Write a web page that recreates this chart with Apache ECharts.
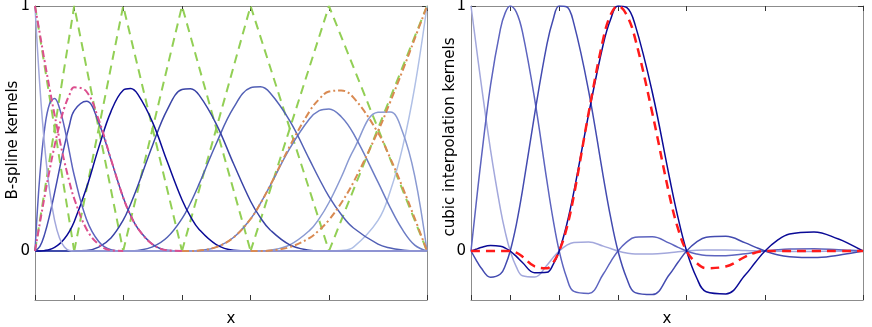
<!DOCTYPE html>
<html>
<head>
<meta charset="utf-8">
<script src="https://cdn.jsdelivr.net/npm/echarts@6/dist/echarts.min.js"></script>
<style>
  html, body { margin: 0; padding: 0; background: #fff; }
  #chart { width: 872px; height: 327px; }
</style>
</head>
<body>
<div id="chart"></div>
<script>
// knot positions, same for both panels (ticks on x)
const knots = [0, 10, 22.5, 37.5, 55, 75, 100];
const yTicks = [0, 1];

// left panel sample positions
const xLeft = [0, 1.25, 2.5, 3.75, 5, 6.25, 7.5, 8.75, 10, 13.125, 16.25, 19.375, 22.5, 24.375, 26.25, 30, 33.75,
    37.5, 39.6875, 41.875, 46.25, 50.625, 55, 57.5, 60, 65, 70, 72.5, 75, 78.125, 81.25, 87.5, 90.625, 93.75, 96.875, 100];

// cubic B-splines (solid blue)
const cubic0 = [1, 0.670, 0.422, 0.244, 0.125, 0.053, 0.016, 0.002, 0, 0, 0, 0, 0, 0, 0, 0, 0,
    0, 0, 0, 0, 0, 0, 0, 0, 0, 0, 0, 0, 0, 0, 0, 0, 0, 0, 0];
const cubic1 = [0, 0.311, 0.505, 0.602, 0.622, 0.583, 0.505, 0.407, 0.309, 0.130, 0.039, 0.005, 0, 0, 0, 0, 0,
    0, 0, 0, 0, 0, 0, 0, 0, 0, 0, 0, 0, 0, 0, 0, 0, 0, 0, 0];
const cubic2 = [0, 0.019, 0.071, 0.147, 0.238, 0.335, 0.429, 0.511, 0.573, 0.611, 0.524, 0.373, 0.218, 0.146, 0.092, 0.027, 0.003,
    0, 0, 0, 0, 0, 0, 0, 0, 0, 0, 0, 0, 0, 0, 0, 0, 0, 0, 0];
const cubic3 = [0, 0, 0.002, 0.006, 0.015, 0.029, 0.050, 0.079, 0.119, 0.257, 0.422, 0.569, 0.656, 0.663, 0.639, 0.525, 0.364,
    0.209, 0.140, 0.088, 0.026, 0.003, 0, 0, 0, 0, 0, 0, 0, 0, 0, 0, 0, 0, 0, 0];
const cubic4 = [0, 0, 0, 0, 0, 0, 0, 0, 0, 0.002, 0.016, 0.053, 0.126, 0.191, 0.267, 0.432, 0.577,
    0.659, 0.662, 0.636, 0.518, 0.357, 0.203, 0.136, 0.086, 0.025, 0.003, 0, 0, 0, 0, 0, 0, 0, 0, 0];
const cubic5 = [0, 0, 0, 0, 0, 0, 0, 0, 0, 0, 0, 0, 0, 0, 0.002, 0.017, 0.056,
    0.132, 0.197, 0.274, 0.439, 0.584, 0.666, 0.670, 0.645, 0.531, 0.374, 0.295, 0.222, 0.149, 0.094, 0.028, 0.012, 0.004, 0, 0];
const cubic6 = [0, 0, 0, 0, 0, 0, 0, 0, 0, 0, 0, 0, 0, 0, 0, 0, 0,
    0, 0, 0.002, 0.016, 0.055, 0.131, 0.194, 0.267, 0.419, 0.539, 0.573, 0.580, 0.548, 0.479, 0.281, 0.177, 0.087, 0.024, 0];
const cubic7 = [0, 0, 0, 0, 0, 0, 0, 0, 0, 0, 0, 0, 0, 0, 0, 0, 0,
    0, 0, 0, 0, 0, 0, 0, 0.003, 0.025, 0.083, 0.132, 0.198, 0.301, 0.412, 0.566, 0.567, 0.487, 0.306, 0];
const cubic8 = [0, 0, 0, 0, 0, 0, 0, 0, 0, 0, 0, 0, 0, 0, 0, 0, 0,
    0, 0, 0, 0, 0, 0, 0, 0, 0, 0, 0, 0, 0.002, 0.016, 0.125, 0.244, 0.422, 0.670, 1];

// boundary splines (dash-dot), null = not drawn
const edgeLeftA = [1, 0.885, 0.771, 0.661, 0.555, 0.456, 0.365, 0.284, 0.214, 0.090, 0.027, 0.003, 0, null, null, null, null,
    null, null, null, null, null, null, null, null, null, null, null, null, null, null, null, null, null, null, null];
const edgeLeftB = [0, 0.115, 0.227, 0.332, 0.430, 0.515, 0.585, 0.636, 0.668, 0.651, 0.536, 0.375, 0.218, 0.146, 0.092, 0.027, 0.003,
    0, null, null, null, null, null, null, null, null, null, null, null, null, null, null, null, null, null, null];
const edgeRightB = [null, null, null, null, null, null, null, null, null, null, null, null, null, null, null, null, null,
    0, 0, 0.002, 0.016, 0.055, 0.131, 0.194, 0.268, 0.428, 0.569, 0.620, 0.651, 0.655, 0.626, 0.483, 0.379, 0.261, 0.133, 0];
const edgeRightA = [null, null, null, null, null, null, null, null, null, null, null, null, null, null, null, null, null,
    null, null, null, null, null, 0, 0, 0.002, 0.016, 0.053, 0.085, 0.127, 0.196, 0.281, 0.489, 0.609, 0.735, 0.867, 1];

// linear B-splines (green dashed), given at the knots
const linear0 = [1, 0, null, null, null, null, null];
const linear1 = [0, 1, 0, null, null, null, null];
const linear2 = [null, 0, 1, 0, null, null, null];
const linear3 = [null, null, 0, 1, 0, null, null];
const linear4 = [null, null, null, 0, 1, 0, null];
const linear5 = [null, null, null, null, 0, 1, 0];
const linear6 = [null, null, null, null, null, 0, 1];

// right panel sample positions
const xRight = [0, 1.25, 2.5, 5, 7.5, 8.75,
    10, 11.5625, 13.125, 16.25, 19.375, 20.9375,
    22.5, 24.375, 26.25, 30, 33.75, 35.625,
    37.5, 39.6875, 41.875, 46.25, 50.625, 52.8125,
    55, 57.5, 60, 65, 70, 72.5,
    75, 78.125, 81.25, 87.5, 93.75, 96.875, 100];

// cubic interpolation kernels
const interp0 = [1, 0.846, 0.694, 0.411, 0.172, 0.076,
    0, -0.065, -0.101, -0.106, -0.058, -0.027,
    0, 0.023, 0.035, 0.037, 0.020, 0.010,
    0, -0.008, -0.012, -0.012, -0.007, -0.003,
    0, 0.003, 0.004, 0.004, 0.002, 0.001,
    0, -0.001, -0.002, -0.002, -0.001, -0.001, 0];
const interp1 = [0, 0.184, 0.361, 0.678, 0.906, 0.973,
    1, 0.975, 0.894, 0.619, 0.285, 0.129,
    0, -0.107, -0.165, -0.173, -0.094, -0.044,
    0, 0.036, 0.056, 0.058, 0.032, 0.015,
    0, -0.012, -0.018, -0.019, -0.011, -0.005,
    0, 0.005, 0.008, 0.009, 0.005, 0.003, 0];
const interp2 = [0, -0.035, -0.067, -0.107, -0.094, -0.059,
    0, 0.108, 0.246, 0.560, 0.844, 0.944,
    1, 0.997, 0.928, 0.654, 0.303, 0.137,
    0, -0.110, -0.170, -0.178, -0.096, -0.046,
    0, 0.036, 0.056, 0.060, 0.033, 0.016,
    0, -0.015, -0.023, -0.027, -0.017, -0.009, 0];
const interp3 = [0, 0.007, 0.014, 0.022, 0.019, 0.012,
    0, -0.022, -0.047, -0.089, -0.087, -0.056,
    0, 0.105, 0.242, 0.558, 0.845, 0.946,
    1, 0.994, 0.923, 0.648, 0.300, 0.136,
    0, -0.107, -0.166, -0.175, -0.097, -0.047,
    0, 0.043, 0.069, 0.078, 0.049, 0.026, 0];
// local kernel (red dashed)
const localKernel = [0, 0, 0, 0, 0, 0,
    0, -0.007, -0.023, -0.063, -0.070, -0.048,
    0, 0.091, 0.227, 0.563, 0.867, 0.964,
    1, 0.964, 0.867, 0.563, 0.227, 0.091,
    0, -0.048, -0.070, -0.063, -0.023, -0.007,
    0, 0, 0, 0, 0, 0, 0];

const frameColor = '#8c8c8c';
const tickColor = '#333';
const font = 'DejaVu Sans, sans-serif';

const toPoints = (xs, ys) => xs.map((x, i) => [x, ys[i]]).filter(p => p[1] !== null);

const makeLine = (grid, xs, ys, color, width, type, smooth, z) => ({
    type: 'line',
    xAxisIndex: grid * 2,
    yAxisIndex: grid * 2,
    data: toPoints(xs, ys),
    smooth: smooth,
    symbol: 'none',
    silent: true,
    z: z,
    lineStyle: { color: color, width: width, type: type }
});

const xAxisFor = (grid, position) => ({
    type: 'value',
    gridIndex: grid,
    position: position,
    min: 0,
    max: 100,
    name: position === 'bottom' ? 'x' : '',
    nameLocation: 'middle',
    nameGap: 12,
    nameTextStyle: { color: '#000', fontSize: 15, fontFamily: font },
    axisLine: { onZero: false, lineStyle: { color: frameColor, width: 1 } },
    axisTick: { inside: true, length: 5, customValues: knots, lineStyle: { color: tickColor } },
    axisLabel: { show: false },
    splitLine: { show: false }
});

const yAxisFor = (grid, position) => ({
    type: 'value',
    gridIndex: grid,
    position: position,
    min: -0.2,
    max: 1,
    axisLine: { onZero: false, lineStyle: { color: frameColor, width: 1 } },
    axisTick: { inside: true, length: 5, customValues: yTicks, lineStyle: { color: tickColor } },
    axisLabel: {
        show: position === 'left',
        customValues: yTicks,
        margin: 5,
        color: '#000',
        fontSize: 15,
        fontFamily: font
    },
    splitLine: { show: false }
});

const green = '#92cf55';
const pink = '#dc4f8e';
const orange = '#d98a52';
const dashGreen = [9, 6];
const dashDot = [7, 3, 2, 3];
const sm = 0.4;

const series = [
    // linear
    makeLine(0, knots, linear0, green, 2, dashGreen, false, 1),
    makeLine(0, knots, linear1, green, 2, dashGreen, false, 1),
    makeLine(0, knots, linear2, green, 2, dashGreen, false, 1),
    makeLine(0, knots, linear3, green, 2, dashGreen, false, 1),
    makeLine(0, knots, linear4, green, 2, dashGreen, false, 1),
    makeLine(0, knots, linear5, green, 2, dashGreen, false, 1),
    makeLine(0, knots, linear6, green, 2, dashGreen, false, 1),
    // cubic
    makeLine(0, xLeft, cubic8, '#b0c0e6', 1.5, 'solid', sm, 2),
    makeLine(0, xLeft, cubic7, '#8a9ad2', 1.5, 'solid', sm, 2),
    makeLine(0, xLeft, cubic6, '#6c7cc4', 1.5, 'solid', sm, 2),
    makeLine(0, xLeft, cubic5, '#5260b5', 1.5, 'solid', sm, 2),
    makeLine(0, xLeft, cubic4, '#3a44a6', 1.5, 'solid', sm, 2),
    makeLine(0, xLeft, cubic3, '#0a0a96', 1.5, 'solid', sm, 2),
    makeLine(0, xLeft, cubic2, '#434bb0', 1.5, 'solid', sm, 2),
    makeLine(0, xLeft, cubic1, '#5d64bf', 1.5, 'solid', sm, 2),
    makeLine(0, xLeft, cubic0, '#a3a8dc', 1.5, 'solid', sm, 2),
    // boundary
    makeLine(0, xLeft, edgeLeftA, pink, 2, dashDot, sm, 3),
    makeLine(0, xLeft, edgeLeftB, pink, 2, dashDot, sm, 3),
    makeLine(0, xLeft, edgeRightB, orange, 2, dashDot, sm, 3),
    makeLine(0, xLeft, edgeRightA, orange, 2, dashDot, sm, 3),
    // right panel
    makeLine(1, xRight, interp0, '#a3a8dc', 1.5, 'solid', sm, 2),
    makeLine(1, xRight, interp1, '#5d64bf', 1.5, 'solid', sm, 2),
    makeLine(1, xRight, interp2, '#434bb0', 1.5, 'solid', sm, 2),
    makeLine(1, xRight, interp3, '#0a0a96', 1.5, 'solid', sm, 2),
    makeLine(1, xRight, localKernel, '#ff1a1a', 2.5, [9, 6], sm, 3)
];

const chart = echarts.init(document.getElementById('chart'));
chart.setOption({
    animation: false,
    backgroundColor: '#fff',
    grid: [
        { left: 35, top: 6, width: 392, height: 294, outerBoundsMode: 'none' },
        { left: 471, top: 6, width: 392, height: 294, outerBoundsMode: 'none' }
    ],
    xAxis: [xAxisFor(0, 'bottom'), xAxisFor(0, 'top'), xAxisFor(1, 'bottom'), xAxisFor(1, 'top')],
    yAxis: [yAxisFor(0, 'left'), yAxisFor(0, 'right'), yAxisFor(1, 'left'), yAxisFor(1, 'right')],
    // rotated y titles
    graphic: [
        {
            type: 'text', x: 13, y: 140, rotation: Math.PI / 2,
            style: { text: 'B-spline kernels', fill: '#000', fontSize: 15, fontFamily: font, align: 'center', verticalAlign: 'middle' }
        },
        {
            type: 'text', x: 450, y: 137, rotation: Math.PI / 2,
            style: { text: 'cubic interpolation kernels', fill: '#000', fontSize: 15, fontFamily: font, align: 'center', verticalAlign: 'middle' }
        }
    ],
    series: series
});
</script>
</body>
</html>
